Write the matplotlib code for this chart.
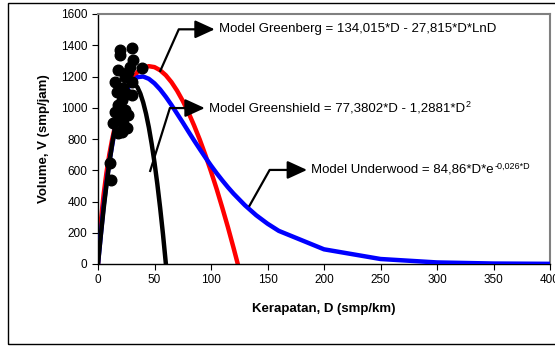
import numpy as np
import matplotlib
matplotlib.use("Agg")
import matplotlib.pyplot as plt
from matplotlib.patches import Rectangle

plt.rcParams['font.family'] = ['Liberation Sans', 'DejaVu Sans']

# observed data (density D, volume V)
obs_d = [19.4, 30.3, 19.4, 31.2, 38.6, 17.9, 26.8, 23.8, 15.0, 29.7, 16.5, 22.4, 29.7,
         20.9, 17.9, 23.8, 15.0, 26.8, 19.4, 22.4, 13.5, 25.3, 20.9, 17.9, 10.6, 11.5,
         28.3, 25.3, 21.5]
obs_v = [1370, 1380, 1338, 1306, 1256, 1242, 1231, 1199, 1167, 1167, 1103, 1124, 1082,
         1050, 1018, 986, 975, 954, 944, 901, 901, 869, 848, 837, 645, 538,
         1263, 1085, 860]

# model curves
gshield_d = [0, 2.5, 5, 7.5, 10, 12.5, 15, 17.5, 20, 22.5, 25, 27.5, 30, 32.5, 35, 37.5,
             40, 42.5, 45, 47.5, 50, 52.5, 55, 57.5, 60, 62]
gshield_v = [0, 185, 355, 508, 645, 766, 871, 960, 1032, 1089, 1129, 1154, 1162, 1154,
             1130, 1090, 1034, 962, 874, 769, 649, 512, 359, 191, 6, -154]

gberg_d = [0, 0.5, 1, 2.5, 5, 7.5, 10, 12.5, 15, 17.5, 20, 25, 30, 35, 40, 45, 50, 55,
           60, 65, 70, 75, 80, 85, 90, 95, 100, 105, 110, 115, 120, 125]
gberg_v = [0, 77, 134, 271, 446, 585, 700, 797, 880, 952, 1014, 1112, 1182, 1229, 1256,
           1266, 1260, 1240, 1208, 1164, 1109, 1044, 970, 887, 797, 698, 592, 480, 360,
           235, 102, -36]

uwood_d = [0, 5, 10, 15, 20, 25, 30, 35, 40, 45, 50, 55, 60, 65, 70, 75, 80, 85, 90, 95,
           100, 105, 110, 115, 120, 130, 140, 150, 160, 200, 250, 300, 350, 400]
uwood_v = [0, 373, 654, 862, 1009, 1108, 1167, 1196, 1200, 1185, 1156, 1117, 1070, 1018,
           962, 906, 848, 791, 736, 682, 630, 581, 535, 491, 450, 376, 312, 258, 212, 94,
           32, 10, 3, 1]

x_ticks = [0, 50, 100, 150, 200, 250, 300, 350, 400]
y_ticks = [0, 200, 400, 600, 800, 1000, 1200, 1400, 1600]

fig = plt.figure(figsize=(5.55, 3.47), dpi=100)
ax = fig.add_axes([98/555, 83/347, 452/555, 250/347])

ax.plot(gberg_d, gberg_v, color='#ff0000', lw=3.2, zorder=2)
ax.plot(uwood_d, uwood_v, color='#0000ff', lw=3.2, zorder=3)
ax.plot(gshield_d, gshield_v, color='black', lw=3.2, zorder=4)
ax.scatter(obs_d, obs_v, s=58, color='black', zorder=5)

ax.set_xlim(0, 400)
ax.set_ylim(0, 1600)
ax.set_xticks(x_ticks)
ax.set_yticks(y_ticks)
ax.tick_params(labelsize=8.5, length=4, width=0.8, direction='out')
for s in ['top', 'right']:
    ax.spines[s].set_color('#808080')
    ax.spines[s].set_linewidth(1.5)
for s in ['left', 'bottom']:
    ax.spines[s].set_linewidth(1)
ax.set_xlabel('Kerapatan, D (smp/km)', fontsize=9.5, fontweight='bold', labelpad=12)
ax.set_ylabel('Volume, V (smp/jam)', fontsize=9.5, fontweight='bold', labelpad=8)

# callouts: start on curve, elbow, arrow tip, label
callouts = [
    ((54.7, 1229), (71.5, 1502), (103.3, 1502),
     'Model Greenberg = 134,015*D - 27,815*D*LnD', None),
    ((45.9, 589), (63.6, 998), (94.5, 998),
     'Model Greenshield = 77,3802*D - 1,2881*D', '2'),
    ((133.6, 367), (151.9, 602), (185.0, 602),
     'Model Underwood = 84,86*D*e', '-0,026*D'),
]
for start, elbow, tip, label, sup in callouts:
    mid = elbow[0] + (tip[0] - elbow[0]) * 0.5
    ax.plot([start[0], elbow[0], mid], [start[1], elbow[1], elbow[1]],
            color='black', lw=1.6, zorder=6, clip_on=False, solid_capstyle='butt')
    ax.annotate('', xy=tip, xytext=(mid, elbow[1]),
                arrowprops=dict(arrowstyle='-|>,head_length=1.2,head_width=0.55',
                                mutation_scale=10, color='black', lw=1.6,
                                shrinkA=0, shrinkB=0), zorder=6)
    t = ax.annotate(label, xy=tip, xytext=(3, 0), textcoords='offset points',
                    fontsize=9.5, va='center', ha='left', zorder=7)
    if sup:
        ax.annotate(sup, xy=(1, 1), xycoords=t, xytext=(0.3, 1.5),
                    textcoords='offset points', fontsize=6.5, va='top', ha='left')

# outer chart border
fig.patches.append(Rectangle((8/555, 3/347), 1.0, 341/347, transform=fig.transFigure,
                             fill=False, edgecolor='black', lw=1, clip_on=False))

fig.savefig('out.png', dpi=100)
